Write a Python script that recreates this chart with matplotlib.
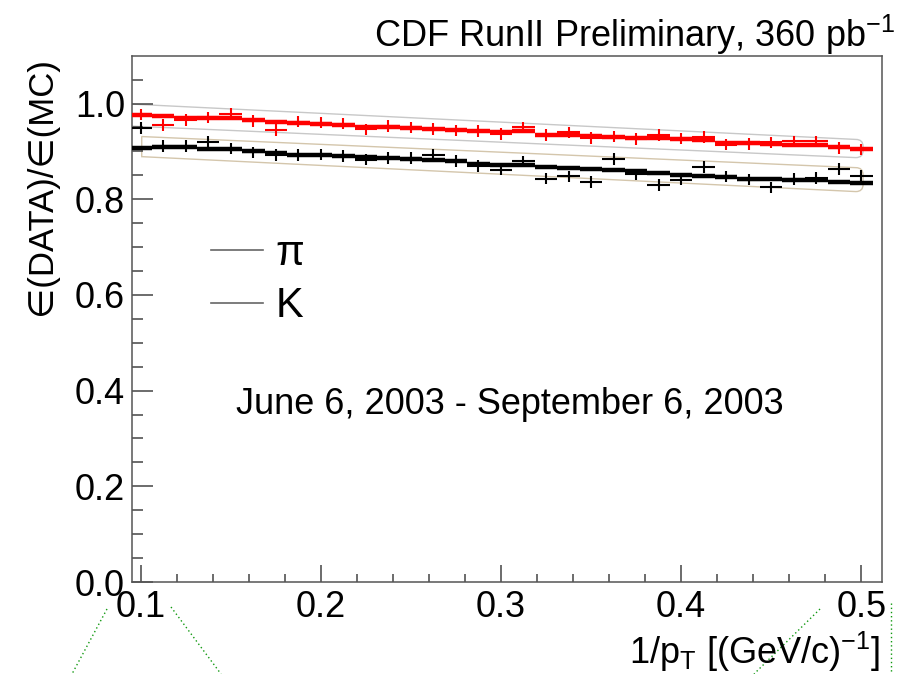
import matplotlib
matplotlib.use("Agg")
import matplotlib.pyplot as plt
import numpy as np
from matplotlib.lines import Line2D
from matplotlib.path import Path
from matplotlib.patches import PathPatch

plt.rcParams["font.family"] = ["Liberation Sans", "DejaVu Sans"]
plt.rcParams["mathtext.fontset"] = "custom"
plt.rcParams["mathtext.rm"] = "Liberation Sans"
plt.rcParams["mathtext.it"] = "Liberation Sans:italic"

# bin centres in 1/pT
bins_x = [0.1 + 0.0125 * i for i in range(33)]
bin_half = 0.00625

# high-statistics (thick) curves
pi_line = [0.977, 0.975, 0.970, 0.969, 0.969, 0.965, 0.962, 0.960, 0.958, 0.956,
           0.950, 0.951, 0.948, 0.946, 0.944, 0.942, 0.941, 0.942, 0.935, 0.934,
           0.932, 0.930, 0.929, 0.928, 0.926, 0.924, 0.918, 0.917, 0.916, 0.914,
           0.913, 0.910, 0.905]
k_line = [0.908, 0.909, 0.909, 0.906, 0.904, 0.900, 0.896, 0.893, 0.892, 0.890,
          0.888, 0.886, 0.885, 0.882, 0.879, 0.874, 0.872, 0.871, 0.868, 0.866,
          0.864, 0.861, 0.858, 0.854, 0.851, 0.849, 0.846, 0.843, 0.842, 0.841,
          0.840, 0.837, 0.834]

# points with error bars
pi_pts = [0.977, 0.955, 0.966, 0.971, 0.979, 0.964, 0.945, 0.962, 0.960, 0.958,
          0.946, 0.953, 0.950, 0.947, 0.944, 0.943, 0.936, 0.950, 0.934, 0.940,
          0.928, 0.931, 0.926, 0.934, 0.927, 0.930, 0.914, 0.915, 0.919, 0.921,
          0.921, 0.907, 0.904]
k_pts = [0.949, 0.911, 0.911, 0.920, 0.906, 0.898, 0.892, 0.892, 0.893, 0.890,
         0.883, 0.886, 0.886, 0.893, 0.880, 0.869, 0.862, 0.879, 0.843, 0.848,
         0.836, 0.884, 0.852, 0.830, 0.841, 0.867, 0.848, 0.841, 0.825, 0.842,
         0.844, 0.863, 0.849]
pt_yerr = 0.012

# systematic bands: [left, right] edges
pi_band_x = [0.094, 0.501]
pi_band_hi = [0.999, 0.925]
pi_band_lo = [0.953, 0.887]
k_band_x = [0.1006, 0.501]
k_band_hi = [0.931, 0.866]
k_band_lo = [0.889, 0.816]

W, H = 909, 674
fig = plt.figure(figsize=(W / 100, H / 100), dpi=100)
ax = fig.add_axes([132 / W, 1 - 582 / H, 750 / W, (582 - 55.7) / H])


def band(x, hi, lo, color):
    dx, dy = 0.004, 0.015
    verts = [(x[0], lo[0]), (x[0], hi[0]), (x[1] - dx, hi[1]), (x[1], hi[1]),
             (x[1], hi[1] - dy), (x[1], lo[1] + dy), (x[1], lo[1]),
             (x[1] - dx, lo[1]), (x[0], lo[0])]
    codes = [Path.MOVETO, Path.LINETO, Path.LINETO, Path.CURVE3, Path.CURVE3,
             Path.LINETO, Path.CURVE3, Path.CURVE3, Path.CLOSEPOLY]
    ax.add_patch(PathPatch(Path(verts, codes), fill=False, ec=color, lw=1.0, zorder=1))


band(pi_band_x, pi_band_hi, pi_band_lo, "#c8c8c8")
band(k_band_x, k_band_hi, k_band_lo, "#d4c6ac")

x = np.array(bins_x)
for line, pts, col in [(pi_line, pi_pts, "#ff0000"), (k_line, k_pts, "#000000")]:
    ax.hlines(line, x - bin_half, x + bin_half, color=col, lw=3.2, zorder=3)
    ax.errorbar(x, pts, xerr=bin_half, yerr=pt_yerr, fmt="none", ecolor=col,
                elinewidth=1.5, capsize=0, zorder=4)

ax.set_xlim(0.0952, 0.5115)
ax.set_ylim(0, 1.1)
ax.set_xticks([0.1, 0.2, 0.3, 0.4, 0.5])
ax.set_xticks(np.arange(0.12, 0.51, 0.02), minor=True)
ax.set_yticks([0.0, 0.2, 0.4, 0.6, 0.8, 1.0])
ax.set_yticks(np.arange(0.05, 1.1, 0.05), minor=True)
ax.set_xticklabels(["0.1", "0.2", "0.3", "0.4", "0.5"])
ax.set_yticklabels(["0.0", "0.2", "0.4", "0.6", "0.8", "1.0"])
ax.tick_params(which="both", direction="in", color="#444444", labelsize=26,
               top=False, right=False)
ax.tick_params(axis="x", which="major", length=12, width=1.1, pad=6)
ax.tick_params(axis="x", which="minor", length=6, width=1.1)
ax.tick_params(axis="y", which="major", length=15, width=1.1, pad=5)
ax.tick_params(axis="y", which="minor", length=8, width=1.1)
for s in ax.spines.values():
    s.set_color("#555555")
    s.set_linewidth(1.1)

handles = [Line2D([], [], color="#666666", lw=1.2), Line2D([], [], color="#666666", lw=1.2)]
ax.legend(handles, ["π", "K"], loc="upper left", bbox_to_anchor=(190 / W, 1 - 213 / H),
          bbox_transform=fig.transFigure, frameon=False, fontsize=30,
          handlelength=1.25, handletextpad=0.3, labelspacing=0.3, borderpad=0)

fig.text(895 / W, 1 - 47 / H, r"CDF RunII Preliminary, 360 pb$^{-1}$", ha="right",
         va="baseline", fontsize=26)
fig.text(510 / W, 1 - 405 / H, "June 6, 2003 - September 6, 2003", ha="center",
         va="center", fontsize=26)
fig.text(880 / W, 1 - 664 / H, r"1/p$_{\mathrm{T}}$ [(GeV/c)$^{-1}$]", ha="right",
         va="baseline", fontsize=26)
fig.text(42 / W, 1 - 57 / H, "∈(DATA)/∈(MC)", rotation=90, ha="center", va="top",
         fontsize=25)

# dotted green guide lines below the frame
guides = [((107, 609), (72, 674)), ((171, 607), (221, 674)),
          ((820, 609), (754, 674)), ((891, 603), (891, 674))]
for (x0, y0), (x1, y1) in guides:
    fig.add_artist(Line2D([x0 / W, x1 / W], [1 - y0 / H, 1 - y1 / H],
                          transform=fig.transFigure, color="#119911", lw=1.0,
                          ls=(0, (1, 2))))

fig.savefig("out.png", dpi=100)
